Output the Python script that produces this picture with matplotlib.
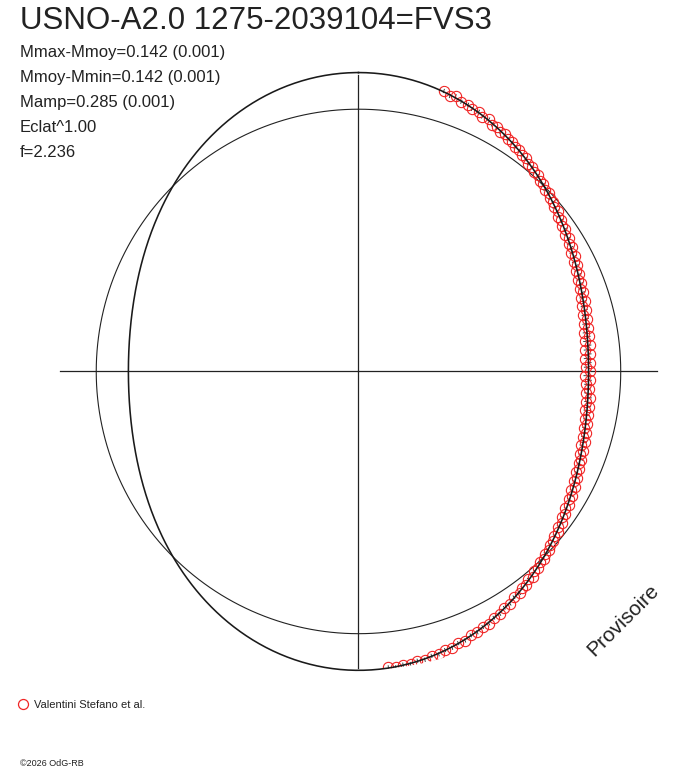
import numpy as np
import matplotlib
matplotlib.use("Agg")
import matplotlib.pyplot as plt

plt.rcParams['font.family'] = ['Liberation Sans', 'DejaVu Sans']

# Titre et paramètres de la courbe
titre = "USNO-A2.0 1275-2039104=FVS3"
infos = ["Mmax-Mmoy=0.142 (0.001)",
         "Mmoy-Mmin=0.142 (0.001)",
         "Mamp=0.285 (0.001)",
         "Eclat^1.00",
         "f=2.236"]
observateur = "Valentini Stefano et al."
m_max_moy = 0.142   # amplitude de la courbe ajustée (mag)
erreur = 0.008      # barre d'erreur (mag)

# Phases (cycles) et magnitudes relatives (mag - Mmoy)
phase = [0.047, 0.051, 0.054, 0.058, 0.062, 0.065, 0.069, 0.072, 0.076, 0.079,
         0.082, 0.085, 0.088, 0.091, 0.094, 0.097, 0.100, 0.103, 0.106, 0.109,
         0.112, 0.115, 0.118, 0.121, 0.124, 0.127, 0.130, 0.133, 0.136, 0.139,
         0.142, 0.145, 0.148, 0.151, 0.154, 0.157, 0.160, 0.163, 0.166, 0.169,
         0.172, 0.175, 0.178, 0.181, 0.184, 0.187, 0.190, 0.193, 0.196, 0.199,
         0.202, 0.205, 0.208, 0.211, 0.214, 0.217, 0.220, 0.223, 0.226, 0.229,
         0.232, 0.235, 0.238, 0.241, 0.244, 0.247, 0.250, 0.253, 0.256, 0.259,
         0.262, 0.265, 0.268, 0.271, 0.274, 0.277, 0.280, 0.283, 0.286, 0.289,
         0.292, 0.295, 0.298, 0.301, 0.304, 0.307, 0.310, 0.313, 0.316, 0.319,
         0.322, 0.325, 0.328, 0.331, 0.334, 0.337, 0.340, 0.343, 0.346, 0.349,
         0.352, 0.355, 0.358, 0.361, 0.364, 0.367, 0.370, 0.373, 0.376, 0.379,
         0.382, 0.385, 0.388, 0.391, 0.394, 0.397, 0.400, 0.404, 0.408, 0.412,
         0.416, 0.420, 0.424, 0.428, 0.432, 0.436, 0.440, 0.444, 0.448, 0.452,
         0.456, 0.460, 0.464, 0.468, 0.472, 0.476, 0.480, 0.484]
dmag = [-0.121, -0.110, -0.116, -0.104, -0.103, -0.094, -0.095, -0.084, -0.086, -0.074,
        -0.074, -0.065, -0.066, -0.056, -0.057, -0.045, -0.047, -0.036, -0.036, -0.025,
        -0.026, -0.014, -0.016, -0.004, -0.003, 0.007, 0.006, 0.018, 0.016, 0.029,
        0.027, 0.040, 0.038, 0.050, 0.046, 0.060, 0.056, 0.070, 0.066, 0.080,
        0.073, 0.090, 0.083, 0.097, 0.090, 0.105, 0.098, 0.113, 0.104, 0.121,
        0.110, 0.128, 0.116, 0.134, 0.121, 0.140, 0.125, 0.146, 0.128, 0.150,
        0.130, 0.152, 0.133, 0.155, 0.135, 0.156, 0.137, 0.158, 0.134, 0.153,
        0.136, 0.150, 0.128, 0.145, 0.126, 0.142, 0.125, 0.136, 0.120, 0.131,
        0.114, 0.126, 0.108, 0.121, 0.104, 0.112, 0.097, 0.103, 0.090, 0.096,
        0.082, 0.088, 0.074, 0.079, 0.065, 0.069, 0.056, 0.060, 0.046, 0.050,
        0.036, 0.039, 0.026, 0.028, 0.016, 0.017, 0.005, 0.006, -0.006, -0.005,
        -0.017, -0.016, -0.028, -0.026, -0.038, -0.036, -0.048, -0.048, -0.061, -0.062,
        -0.074, -0.075, -0.086, -0.087, -0.097, -0.097, -0.107, -0.107, -0.116, -0.116,
        -0.124, -0.123, -0.131, -0.129, -0.136, -0.134, -0.140, -0.137]

R_MAX = 1.139

fig = plt.figure(figsize=(6.88, 7.68), dpi=100)
ax = fig.add_axes([0.0869, 0.1274, 0.8683, 0.7779], projection='polar')
ax.set_theta_zero_location('N')
ax.set_theta_direction(-1)
ax.set_ylim(0, R_MAX)
ax.axis('off')

# axes en croix
for ang, lon in [(np.pi / 2, R_MAX), (3 * np.pi / 2, R_MAX), (0, 1.129), (np.pi, 1.132)]:
    ax.plot([ang, ang], [0, lon], color='#222222', lw=0.9, clip_on=False, zorder=1)

# cercle de référence (flux moyen)
t = np.linspace(0, 2 * np.pi, 721)
ax.plot(t, np.ones_like(t), color='#222222', lw=0.8, zorder=1)

# points observés
theta = 2 * np.pi * np.array(phase)
rayon = 10 ** (-0.4 * np.array(dmag))
err_r = rayon * 0.4 * np.log(10) * erreur
ax.errorbar(theta, rayon, yerr=err_r, fmt='none', ecolor='#222222', elinewidth=0.6, zorder=2)
ax.plot(theta, rayon, 'o', mfc='none', mec='#f02525', mew=0.8, ms=7.4, zorder=2)

# courbe ajustée
r_fit = 10 ** (0.4 * m_max_moy * np.cos(2 * t))
ax.plot(t, r_fit, color='#1a1a1a', lw=1.15, clip_on=False, zorder=3)

# textes
H = 768
fig.text(20 / 688, 1 - 29 / H, titre, fontsize=22.5, color='#222222', va='baseline')
for i, ligne in enumerate(infos):
    fig.text(20 / 688, 1 - (57 + 25 * i) / H, ligne, fontsize=12, color='#222222', va='baseline')

fig.text(623 / 688, 1 - 620 / H, "Provisoire", fontsize=15, rotation=45,
         ha='center', va='center', color='#222222', rotation_mode='anchor')

# légende
fig.lines.append(plt.Line2D([23 / 688], [1 - 704 / H], marker='o', mfc='none', mec='#f02525',
                            mew=0.9, ms=7.2, transform=fig.transFigure))
fig.text(34 / 688, 1 - 708 / H, observateur, fontsize=8, color='#222222', va='baseline')
fig.text(20 / 688, 1 - 766 / H, "\u00a92026 OdG-RB", fontsize=6.5, color='#222222', va='baseline')

plt.savefig('out.png', dpi=100)
